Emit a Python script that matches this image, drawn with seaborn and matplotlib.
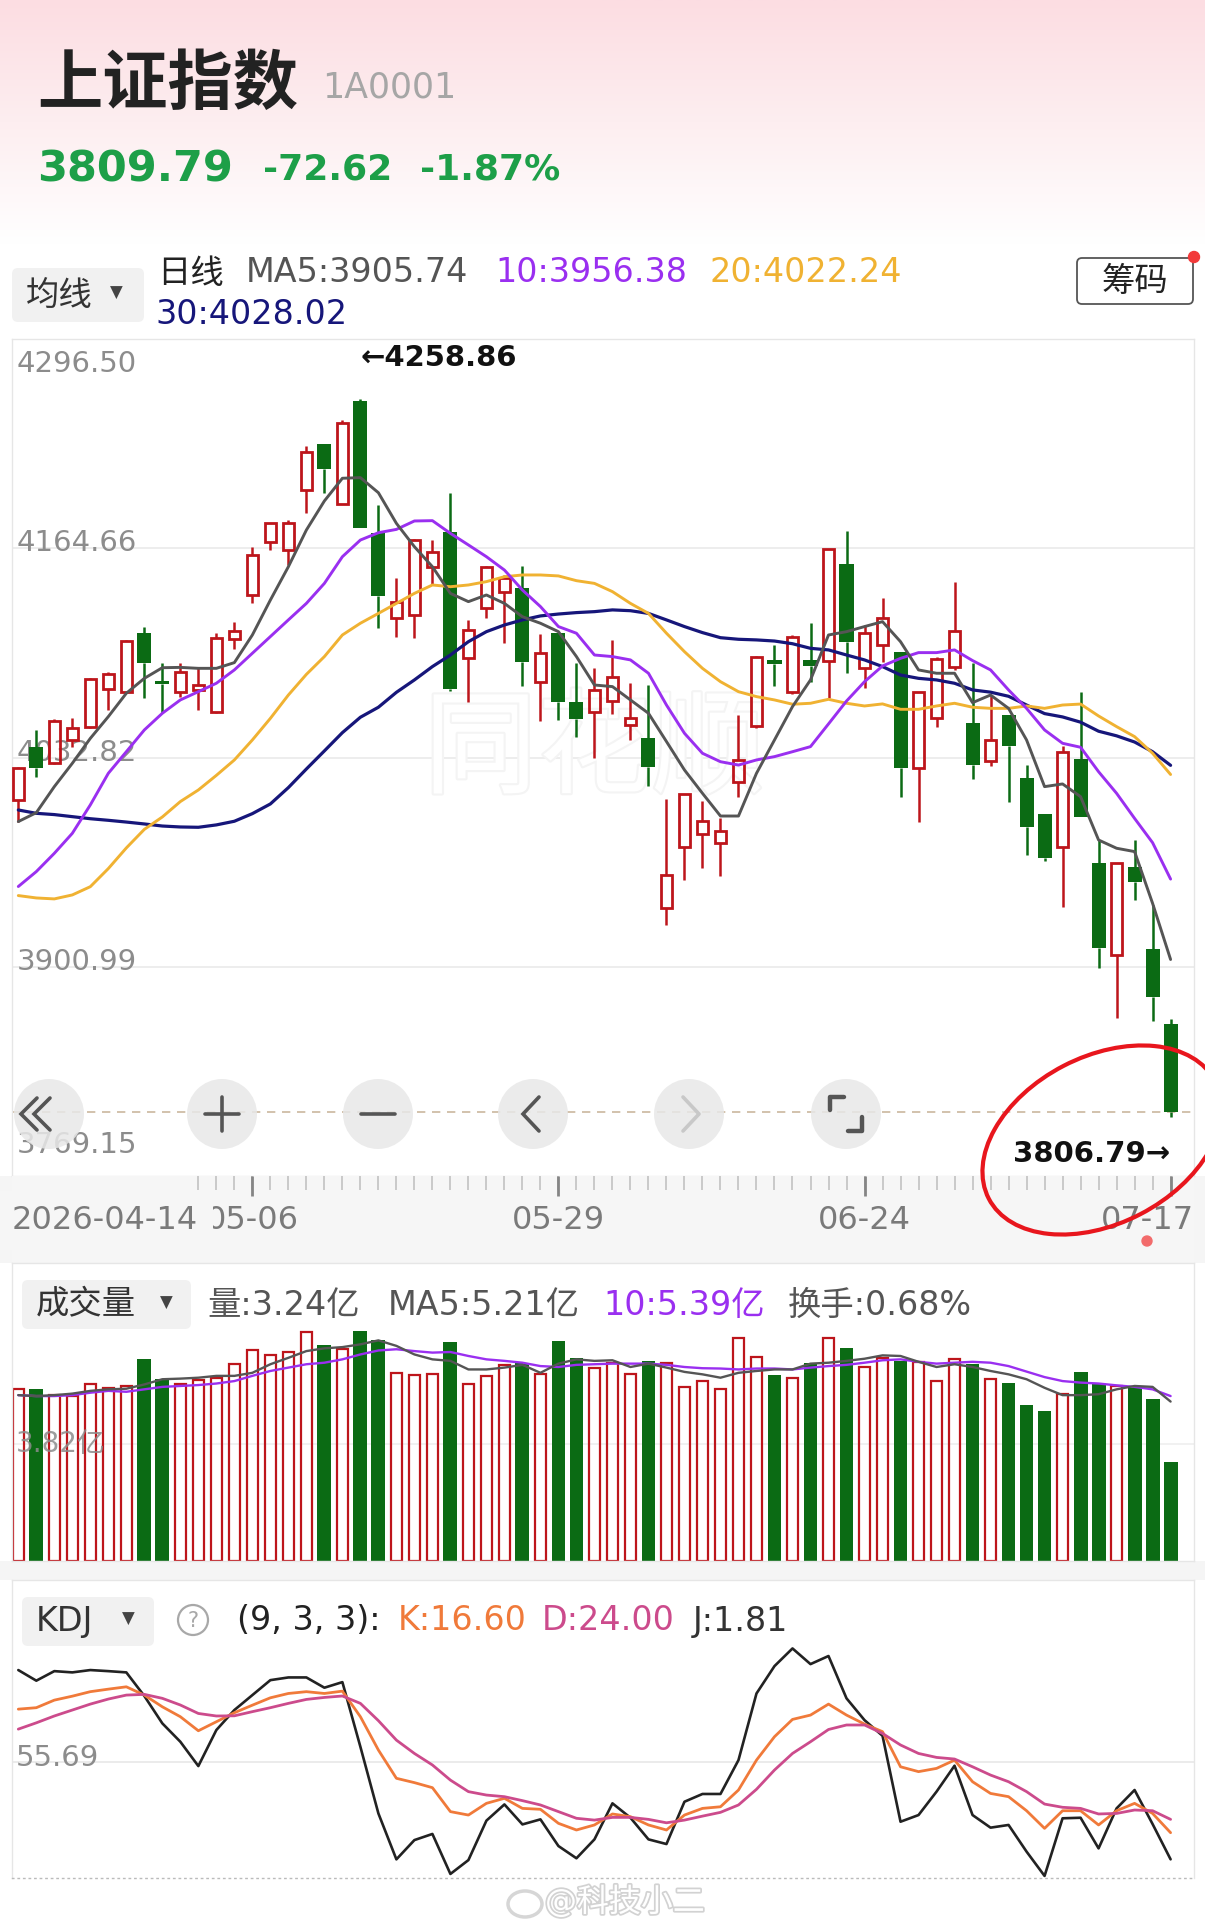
import numpy as np
import pandas as pd
import seaborn as sns
import matplotlib.pyplot as plt
import matplotlib.patheffects as pe
from matplotlib.colors import LinearSegmentedColormap
from matplotlib.patches import Circle, Ellipse, FancyBboxPatch

# 上证指数 daily candles, 2026-04-14 .. 2026-07-17 (65 trading days)
opens = [4006.2, 4039.8, 4029.3, 4044.0, 4052.4, 4075.9, 4074.4, 4111.6, 4081.3, 4074.4,
         4075.5, 4061.8, 4107.6, 4135.3, 4168.9, 4163.6, 4201.4, 4230.2, 4192.4, 4257.5,
         4174.5, 4120.6, 4122.7, 4153.1, 4175.2, 4095.8, 4126.9, 4137.4, 4139.5, 4080.7,
         4111.2, 4068.1, 4061.8, 4068.5, 4053.4, 4045.0, 3938.0, 3976.8, 3984.6, 3979.3,
         4017.3, 4052.8, 4094.4, 4074.4, 4094.4, 4093.8, 4154.6, 4089.5, 4103.8, 4099.6,
         4026.1, 4057.6, 4090.2, 4054.5, 4030.9, 4059.7, 4019.8, 3997.4, 3976.8, 4031.8,
         3966.3, 3908.6, 3963.8, 3912.2, 3865.1]
highs = [4027.2, 4050.3, 4057.2, 4058.0, 4082.8, 4086.6, 4107.0, 4114.9, 4092.3, 4092.3,
         4089.1, 4111.6, 4118.5, 4165.7, 4180.8, 4182.5, 4229.1, 4230.2, 4245.5, 4258.86,
         4192.0, 4145.8, 4170.3, 4169.9, 4199.7, 4119.6, 4153.6, 4147.9, 4153.6, 4110.5,
         4111.2, 4092.3, 4089.1, 4107.0, 4080.1, 4078.6, 4006.6, 4010.0, 4005.6, 3994.7,
         4059.7, 4096.9, 4103.8, 4110.0, 4117.5, 4164.0, 4175.6, 4116.4, 4133.2, 4099.6,
         4074.4, 4096.5, 4143.3, 4092.3, 4072.3, 4059.7, 4028.2, 3997.4, 4040.2, 4074.4,
         3981.0, 3966.7, 3981.0, 3940.1, 3868.1]
lows = [3992.6, 4020.9, 4028.9, 4039.4, 4051.3, 4062.9, 4073.8, 4070.6, 4061.2, 4071.3,
        4062.9, 4061.2, 4101.1, 4130.1, 4163.6, 4154.2, 4186.7, 4199.7, 4192.4, 4177.7,
        4114.3, 4109.0, 4108.4, 4141.6, 4074.8, 4068.1, 4120.6, 4104.9, 4078.0, 4056.0,
        4056.6, 4046.1, 4032.4, 4060.4, 4044.0, 4015.2, 3927.5, 3955.8, 3963.2, 3958.3,
        4008.3, 4051.3, 4078.2, 4073.0, 4080.7, 4070.2, 4086.0, 4076.5, 4093.3, 4007.9,
        3992.6, 4052.4, 4088.1, 4019.2, 4027.6, 4005.1, 3971.6, 3968.0, 3939.0, 3995.3,
        3900.2, 3868.7, 3943.2, 3867.0, 3806.79]
closes = [4026.6, 4026.6, 4056.2, 4051.3, 4082.2, 4085.3, 4106.3, 4092.7, 4079.3, 4086.6,
          4078.6, 4108.0, 4112.6, 4160.5, 4180.4, 4180.4, 4225.6, 4214.4, 4243.8, 4177.7,
          4134.7, 4131.1, 4169.9, 4162.6, 4075.9, 4113.3, 4153.1, 4145.8, 4093.3, 4098.6,
          4068.1, 4057.0, 4075.5, 4083.9, 4057.6, 4027.2, 3959.0, 4010.0, 3993.0, 3986.9,
          4031.4, 4096.5, 4091.6, 4108.6, 4090.6, 4164.0, 4105.9, 4111.2, 4120.6, 4026.1,
          4074.4, 4095.0, 4112.6, 4028.2, 4044.0, 4040.2, 3989.4, 3969.5, 4036.6, 3995.3,
          3912.8, 3966.7, 3954.8, 3882.41, 3809.79]

# moving averages as drawn on the chart
ma5 = [3992.6, 3998.2, 4014.6, 4029.3, 4045.0, 4058.7, 4073.4, 4082.8, 4089.5, 4089.7,
       4089.1, 4089.1, 4092.7, 4110.1, 4132.1, 4153.1, 4176.2, 4194.5, 4208.8, 4209.2,
       4199.7, 4180.4, 4165.7, 4153.1, 4136.3, 4131.1, 4135.3, 4130.0, 4121.6, 4117.5,
       4112.2, 4096.5, 4078.6, 4077.6, 4069.2, 4060.8, 4043.0, 4025.1, 4010.4, 3996.1,
       3996.1, 4023.0, 4044.0, 4065.0, 4081.8, 4110.1, 4112.2, 4115.4, 4118.5, 4105.9,
       4088.1, 4086.0, 4086.0, 4067.5, 4072.3, 4063.9, 4044.0, 4014.6, 4016.3, 4008.3,
       3981.0, 3975.8, 3973.7, 3941.1, 3905.74]
ma10 = [3951.7, 3961.1, 3972.6, 3985.2, 4003.1, 4023.0, 4036.6, 4050.3, 4060.8, 4069.2,
        4074.4, 4079.7, 4088.1, 4098.6, 4109.1, 4119.6, 4130.0, 4142.6, 4159.4, 4169.9,
        4174.5, 4176.6, 4181.9, 4182.1, 4174.1, 4166.8, 4159.4, 4151.0, 4138.4, 4128.0,
        4115.4, 4111.2, 4097.5, 4096.5, 4094.4, 4086.0, 4066.0, 4048.2, 4035.6, 4030.3,
        4028.2, 4031.4, 4033.5, 4036.6, 4039.8, 4054.1, 4068.5, 4080.7, 4090.6, 4095.4,
        4099.0, 4099.0, 4100.7, 4094.0, 4088.1, 4075.5, 4063.9, 4050.3, 4041.9, 4039.4,
        4024.0, 4010.4, 3994.6, 3979.3, 3956.38]
ma20 = [3946.0, 3944.5, 3943.9, 3946.4, 3951.6, 3963.0, 3976.0, 3987.7, 3995.5, 4005.2,
        4012.5, 4021.7, 4031.4, 4044.0, 4057.6, 4072.3, 4085.3, 4096.5, 4110.1, 4117.5,
        4123.7, 4130.0, 4136.3, 4141.6, 4140.5, 4141.6, 4143.7, 4146.8, 4147.9, 4147.9,
        4147.3, 4144.3, 4142.6, 4137.4, 4130.0, 4123.7, 4111.2, 4099.6, 4089.1, 4080.7,
        4074.4, 4071.3, 4069.2, 4066.5, 4067.1, 4069.6, 4067.1, 4065.4, 4066.7, 4063.3,
        4063.3, 4065.4, 4067.1, 4064.6, 4063.9, 4063.9, 4065.4, 4063.9, 4066.0, 4066.6,
        4059.1, 4052.4, 4046.1, 4035.6, 4022.24]
ma30 = [3999.9, 3997.8, 3997.0, 3995.7, 3994.4, 3993.4, 3992.3, 3991.1, 3989.8, 3989.2,
        3989.0, 3990.5, 3992.8, 3997.6, 4003.7, 4014.0, 4025.7, 4037.1, 4048.6, 4058.3,
        4064.6, 4074.0, 4081.8, 4090.2, 4097.5, 4105.9, 4112.2, 4116.4, 4119.6, 4122.1,
        4123.3, 4124.2, 4124.8, 4125.9, 4125.4, 4123.7, 4119.6, 4115.4, 4111.6, 4108.4,
        4107.4, 4107.0, 4106.3, 4104.6, 4101.7, 4100.7, 4097.5, 4094.4, 4090.2, 4084.9,
        4082.8, 4081.8, 4079.7, 4075.5, 4074.1, 4071.5, 4066.0, 4060.6, 4058.5, 4055.2,
        4049.5, 4046.6, 4042.7, 4036.6, 4028.02]

# 成交量 (亿) and its averages
volume = [5.61, 5.61, 5.42, 5.39, 5.80, 5.66, 5.72, 6.59, 5.96, 5.80,
          5.90, 5.99, 6.45, 6.88, 6.72, 6.84, 7.48, 7.06, 6.92, 7.52,
          7.22, 6.15, 6.07, 6.12, 7.16, 5.80, 6.05, 6.41, 6.48, 6.10,
          7.19, 6.64, 6.32, 6.46, 6.10, 6.54, 6.48, 5.69, 5.88, 5.61,
          7.30, 6.67, 6.08, 5.99, 6.48, 7.30, 6.97, 6.34, 6.62, 6.54,
          6.51, 5.88, 6.61, 6.43, 5.94, 5.83, 5.09, 4.90, 5.45, 6.19,
          5.77, 5.72, 5.66, 5.28, 3.24]
vol_ma5 = [5.42, 5.39, 5.42, 5.47, 5.56, 5.61, 5.63, 5.77, 5.94, 5.96,
           5.99, 6.05, 6.05, 6.15, 6.43, 6.64, 6.86, 6.95, 6.99, 7.08,
           7.21, 7.03, 6.75, 6.59, 6.54, 6.26, 6.26, 6.32, 6.41, 6.15,
           6.45, 6.59, 6.54, 6.56, 6.34, 6.45, 6.32, 6.18, 6.10, 5.99,
           6.15, 6.21, 6.26, 6.26, 6.45, 6.48, 6.54, 6.61, 6.72, 6.70,
           6.51, 6.34, 6.43, 6.34, 6.21, 6.10, 5.94, 5.66, 5.42, 5.42,
           5.45, 5.61, 5.72, 5.69, 5.21]
vol_ma10 = [5.42, 5.39, 5.39, 5.42, 5.50, 5.56, 5.53, 5.61, 5.69, 5.72,
            5.75, 5.80, 5.88, 6.05, 6.21, 6.32, 6.43, 6.48, 6.59, 6.75,
            6.88, 6.92, 6.86, 6.81, 6.83, 6.70, 6.59, 6.54, 6.48, 6.37,
            6.34, 6.41, 6.43, 6.45, 6.45, 6.45, 6.41, 6.34, 6.30, 6.29,
            6.26, 6.29, 6.29, 6.26, 6.32, 6.37, 6.41, 6.48, 6.56, 6.59,
            6.51, 6.45, 6.48, 6.51, 6.48, 6.37, 6.19, 6.01, 5.88, 5.83,
            5.80, 5.74, 5.69, 5.61, 5.39]

# KDJ (9, 3, 3)
kdj_k = [85.2, 86.0, 90.2, 92.4, 94.9, 96.3, 97.6, 93.0, 86.5, 81.0,
         73.2, 78.2, 83.2, 87.4, 91.5, 93.9, 94.9, 93.9, 95.2, 81.0,
         62.5, 46.8, 44.4, 41.6, 28.3, 26.4, 32.9, 35.7, 30.1, 29.6,
         21.8, 18.1, 20.9, 27.0, 25.5, 20.9, 18.1, 26.4, 30.1, 31.0,
         40.3, 56.9, 69.9, 79.5, 81.9, 88.0, 81.9, 76.9, 72.7, 53.2,
         50.5, 52.3, 56.9, 44.9, 38.4, 36.6, 28.8, 19.0, 28.8, 28.8,
         20.9, 28.8, 32.9, 27.3, 16.60]
kdj_d = [74.1, 77.6, 81.4, 84.7, 88.0, 90.8, 93.0, 93.4, 91.2, 87.5,
         82.8, 81.4, 81.5, 83.8, 86.0, 88.4, 90.6, 91.7, 92.5, 88.4,
         78.8, 68.0, 60.6, 54.2, 45.8, 39.4, 37.5, 36.6, 34.4, 32.0,
         28.3, 24.6, 23.6, 25.1, 25.1, 24.0, 22.1, 23.6, 25.8, 27.9,
         32.0, 40.7, 51.4, 60.6, 67.1, 73.9, 76.4, 76.4, 71.7, 65.3,
         60.6, 58.4, 57.5, 53.2, 48.6, 44.9, 39.4, 32.5, 30.7, 30.1,
         27.0, 27.3, 29.2, 28.8, 24.00]
kdj_j = [106.9, 101.0, 106.3, 105.6, 106.9, 106.3, 105.6, 92.5, 77.3, 67.1,
         53.6, 73.6, 84.7, 93.0, 101.3, 102.8, 102.8, 97.1, 100.2, 64.3,
         27.3, 1.8, 12.5, 15.9, -6.3, 1.4, 23.3, 32.3, 21.2, 24.0,
         9.2, 2.4, 12.9, 32.9, 24.9, 12.9, 10.3, 33.8, 38.1, 38.1,
         56.9, 93.9, 109.1, 118.9, 110.2, 114.7, 91.2, 79.1, 70.4, 22.7,
         26.4, 39.4, 53.8, 26.4, 19.4, 20.9, 6.1, -7.4, 24.6, 24.9,
         7.9, 30.1, 40.3, 21.4, 1.81]

date_labels = ['2026-04-14', '05-06', '05-29', '06-24', '07-17']
date_pos = [0, 13, 30, 47, 64]
price_ticks = [4296.50, 4164.66, 4032.82, 3900.99, 3769.15]

RED = '#bd151b'
GREEN = '#0b6b14'
GRAY_MA = '#555555'
PURPLE = '#9a2ff0'
GOLD = '#f0b232'
NAVY = '#16167a'

sns.set_theme(style='white')
plt.rcParams['font.family'] = ['DejaVu Sans', 'Noto Sans CJK SC']
plt.rcParams['axes.unicode_minus'] = False

W, H = 1205, 1929
fig = plt.figure(figsize=(W / 100, H / 100), dpi=100)
fig.patch.set_facecolor('white')


def box(x0, y0, x1, y1):
    return [x0 / W, 1 - y1 / H, (x1 - x0) / W, (y1 - y0) / H]


df = pd.DataFrame({'i': np.arange(len(closes)), 'open': opens, 'high': highs, 'low': lows,
                   'close': closes, 'vol': volume, 'ma5': ma5, 'ma10': ma10, 'ma20': ma20,
                   'ma30': ma30, 'vma5': vol_ma5, 'vma10': vol_ma10,
                   'k': kdj_k, 'd': kdj_d, 'j': kdj_j})
up = df[df['close'] >= df['open']]
dn = df[df['close'] < df['open']]
XLIM = (-0.35, 65.3)

# ---- background: pink header gradient + grey separators
bg = fig.add_axes([0, 0, 1, 1], zorder=0)
bg.set_xlim(0, W)
bg.set_ylim(H, 0)
bg.axis('off')
cmap = LinearSegmentedColormap.from_list('hdr', ['#fcdde2', '#fdeef0', '#ffffff'])
bg.imshow(np.linspace(0, 1, 200).reshape(-1, 1), cmap=cmap, aspect='auto',
          extent=[0, W, 245, 0])
bg.fill_between([0, W], 1176, 1263, color='#f5f5f5', lw=0)
bg.fill_between([0, W], 1561, 1580, color='#f5f5f5', lw=0)


def clean(a):
    a.set_xlim(*XLIM)
    a.set_xticks([])
    a.set_yticks([])
    a.set_xlabel('')
    a.set_ylabel('')
    for s in a.spines.values():
        s.set_color('#e6e6e6')
        s.set_linewidth(1)


# ---- price panel
ax = fig.add_axes(box(12, 339, 1194, 1176.4), zorder=1)
ax.set_facecolor('white')
for v in price_ticks[1:4]:
    ax.axhline(v, color='#e8e8e8', lw=1.1, zorder=0)
offs = [(-11, 'top'), (-3, 'baseline'), (-3, 'baseline'), (-3, 'baseline'), (23, 'baseline')]
for v, (dy, va) in zip(price_ticks, offs):
    ax.annotate(f'{v:.2f}', xy=(0, v), xycoords=('axes fraction', 'data'),
                xytext=(5, dy), textcoords='offset pixels', ha='left', va=va,
                fontsize=21, color='#8c8c8c', zorder=0.5)
ax.text(32, 4036, '同花顺', fontsize=82, color='white', ha='center', va='center',
        zorder=0.3, path_effects=[pe.withStroke(linewidth=3, foreground='#f4f4f4')])
ax.axhline(closes[-1], color='#cbb89e', lw=1.2, ls=(0, (5, 4)), zorder=1)

# wicks (split around the body so hollow candles stay hollow)
body_top = np.maximum(df['open'], df['close'])
body_bot = np.minimum(df['open'], df['close'])
wick_col = [RED if c >= o else GREEN for o, c in zip(opens, closes)]
ax.vlines(df['i'], body_top, df['high'], colors=wick_col, lw=1.8, zorder=2)
ax.vlines(df['i'], df['low'], body_bot, colors=wick_col, lw=1.8, zorder=2)
ax.bar(up['i'], np.maximum(up['close'] - up['open'], 0.8), bottom=up['open'], width=0.64,
       facecolor='none', edgecolor=RED, linewidth=2.0, zorder=3)
ax.bar(dn['i'], dn['open'] - dn['close'], bottom=dn['close'], width=0.78,
       color=GREEN, linewidth=0, zorder=3)

for col, c, lw in [('ma30', NAVY, 2.3), ('ma20', GOLD, 2.1), ('ma10', PURPLE, 2.1), ('ma5', GRAY_MA, 2.1)]:
    sns.lineplot(data=df, x='i', y=col, color=c, linewidth=lw, ax=ax, zorder=4, errorbar=None)

ax.annotate('\u2190' + f'{highs[19]:.2f}', xy=(19, highs[19]), xytext=(0, 41),
            textcoords='offset pixels', ha='left', va='center', fontsize=21,
            fontweight='bold', color='#111111')
ax.annotate(f'{lows[-1]:.2f}' + '\u2192', xy=(64, lows[-1]), xytext=(0, -37),
            textcoords='offset pixels', ha='right', va='center', fontsize=21,
            fontweight='bold', color='#111111')
ax.set_ylim(3769.15, 4296.50)
clean(ax)

# ---- date strip
dax = fig.add_axes(box(12, 1176.4, 1194, 1263), zorder=1)
dax.set_facecolor('#f6f6f6')
dax.set_ylim(1, 0)
dax.vlines(df['i'][10:], 0, 0.16, colors='#c6c6c6', lw=1.3)
dax.vlines(date_pos[1:], 0, 0.23, colors='#858585', lw=2)
for lab, p in zip(date_labels, date_pos):
    ha, xx = 'center', p
    if p == 0:
        ha, xx = 'left', XLIM[0]
    elif p == 64:
        ha, xx = 'right', XLIM[1]
    kw = {}
    if p == 0:
        kw['bbox'] = dict(boxstyle='square,pad=0.45', fc='#f6f6f6', ec='none')
    dax.text(xx, 0.51, lab, ha=ha, va='center', fontsize=23, color='#7a7a7a',
             zorder=3 if p == 0 else 2, **kw)
clean(dax)
for s in dax.spines.values():
    s.set_visible(False)

# ---- volume panel
vax = fig.add_axes(box(12, 1263, 1194, 1561), zorder=1)
vax.set_facecolor('white')
vax.axhline(3.82, color='#eeeeee', lw=1.1, zorder=0)
vax.bar(up['i'], up['vol'], width=0.64, facecolor='none', edgecolor=RED, linewidth=1.6, zorder=2)
vax.bar(dn['i'], dn['vol'], width=0.77, color=GREEN, linewidth=0, zorder=2)
sns.lineplot(data=df, x='i', y='vma10', color=PURPLE, linewidth=1.7, ax=vax, zorder=3, errorbar=None)
sns.lineplot(data=df, x='i', y='vma5', color=GRAY_MA, linewidth=1.7, ax=vax, zorder=3, errorbar=None)
vax.annotate('3.82亿', xy=(0, 3.82), xycoords=('axes fraction', 'data'), xytext=(4, 0),
             textcoords='offset pixels', ha='left', va='center', fontsize=20,
             color='#8c8c8c', alpha=0.85, zorder=4)
vax.set_ylim(0, 298 / 30.6)
clean(vax)

# ---- KDJ panel
kax = fig.add_axes(box(12, 1580, 1194, 1878), zorder=1)
kax.set_facecolor('white')
kax.axhline(55.69, color='#e6e6e6', lw=1.1, zorder=0)
kax.annotate('55.69', xy=(0, 55.69), xycoords=('axes fraction', 'data'), xytext=(4, -4),
             textcoords='offset pixels', ha='left', va='baseline', fontsize=21, color='#8c8c8c')
sns.lineplot(data=df, x='i', y='j', color='#222222', linewidth=1.9, ax=kax, errorbar=None)
sns.lineplot(data=df, x='i', y='k', color='#f07a3a', linewidth=2.0, ax=kax, errorbar=None)
sns.lineplot(data=df, x='i', y='d', color='#cc4b8c', linewidth=2.0, ax=kax, errorbar=None)
kax.set_ylim(-8.55, 156.9)
clean(kax)
kax.spines['bottom'].set_linestyle((0, (1, 3)))
kax.spines['bottom'].set_color('#bbbbbb')

# ---- overlay: header texts, buttons, hand drawn circle
ov = fig.add_axes([0, 0, 1, 1], zorder=5)
ov.set_xlim(0, W)
ov.set_ylim(H, 0)
ov.axis('off')


def t(x, y, s, size, color, **kw):
    ov.text(x, y, s, fontsize=size, color=color, ha=kw.pop('ha', 'left'), va=kw.pop('va', 'center'), **kw)


t(37, 86, '上证指数', 47, '#222222', fontweight='bold')
t(322, 88, '1A0001', 25, '#a6a6a6')
t(37, 170, '3809.79', 31, '#1d9f48', fontweight='bold')
t(263, 170, '-72.62', 26, '#1d9f48', fontweight='bold')
t(420, 170, '-1.87%', 26, '#1d9f48', fontweight='bold')

ov.add_patch(FancyBboxPatch((12, 268), 132, 54, boxstyle='round,pad=0,rounding_size=6',
                            fc='#f1f1f1', ec='none'))
t(26, 295, '均线', 24, '#333333')
t(110, 293, '\u25bc', 12, '#444444')
t(157, 273, '日线', 24, '#222222')
t(246, 273, 'MA5:3905.74', 24, '#555555')
t(495, 273, '10:3956.38', 24, PURPLE)
t(710, 273, '20:4022.24', 24, GOLD)
t(155, 315, '30:4028.02', 24, NAVY)
ov.add_patch(FancyBboxPatch((1077, 258), 116, 46, boxstyle='round,pad=0,rounding_size=5',
                            fc='white', ec='#555555', lw=1.3))
t(1135, 281, '筹码', 24, '#222222', ha='center')
ov.add_patch(Circle((1194, 257), 5.5, color='#f23a3a'))

# navigation buttons on the price chart
for cx in [49, 222, 378, 533, 689, 846]:
    ov.add_patch(Circle((cx, 1114), 35, fc='#e8e8e8', ec='none', alpha=0.85))
ic = dict(color='#555555', lw=2.6, solid_capstyle='round', solid_joinstyle='miter')
for dx in (0, 13):
    ov.plot([51 + dx - 14, 51 + dx - 30, 51 + dx - 14], [1098, 1114, 1130], **ic)
ov.plot([205, 239], [1114, 1114], **ic)
ov.plot([222, 222], [1097, 1131], **ic)
ov.plot([361, 395], [1114, 1114], **ic)
ov.plot([539, 523, 539], [1097, 1114, 1131], **ic)
ov.plot([683, 699, 683], [1097, 1114, 1131], color='#c8c8c8', lw=2.6)
ov.plot([830, 830, 844], [1110, 1097, 1097], color='#555555', lw=3.2)
ov.plot([848, 862, 862], [1131, 1131, 1117], color='#555555', lw=3.2)

ov.add_patch(Ellipse((1102, 1140), 255, 167, angle=-27.4, fc='none', ec='#e8161d', lw=3))
ov.add_patch(Circle((1147, 1241), 5, color='#f26b6b'))

# volume header
ov.add_patch(FancyBboxPatch((22, 1280), 169, 49, boxstyle='round,pad=0,rounding_size=6',
                            fc='#f1f1f1', ec='none'))
t(36, 1305, '成交量', 24, '#333333')
t(160, 1303, '\u25bc', 12, '#444444')
t(207, 1305, '量:3.24亿', 24, '#555555')
t(388, 1305, 'MA5:5.21亿', 24, '#555555')
t(603, 1305, '10:5.39亿', 24, PURPLE)
t(788, 1305, '换手:0.68%', 24, '#555555')

# KDJ header
ov.add_patch(FancyBboxPatch((22, 1597), 132, 49, boxstyle='round,pad=0,rounding_size=6',
                            fc='#f1f1f1', ec='none'))
t(36, 1621, 'KDJ', 24, '#333333')
t(122, 1619, '\u25bc', 12, '#444444')
ov.add_patch(Circle((193, 1620), 15, fc='none', ec='#a8a8a8', lw=1.6))
t(193, 1621, '?', 15, '#a8a8a8', ha='center')
t(237, 1621, '(9, 3, 3):', 24, '#222222')
t(398, 1621, 'K:16.60', 24, '#f07a3a')
t(542, 1621, 'D:24.00', 24, '#cc4b8c')
t(693, 1621, 'J:1.81', 24, '#333333')

# weibo watermark
ov.add_patch(Ellipse((525, 1904), 34, 26, fc='none', ec='#d6d6d6', lw=2.5))
t(545, 1902, '@科技小二', 23, 'white', path_effects=[pe.withStroke(linewidth=2.5, foreground='#d2d2d2')])

fig.savefig('out.png', dpi=100)
